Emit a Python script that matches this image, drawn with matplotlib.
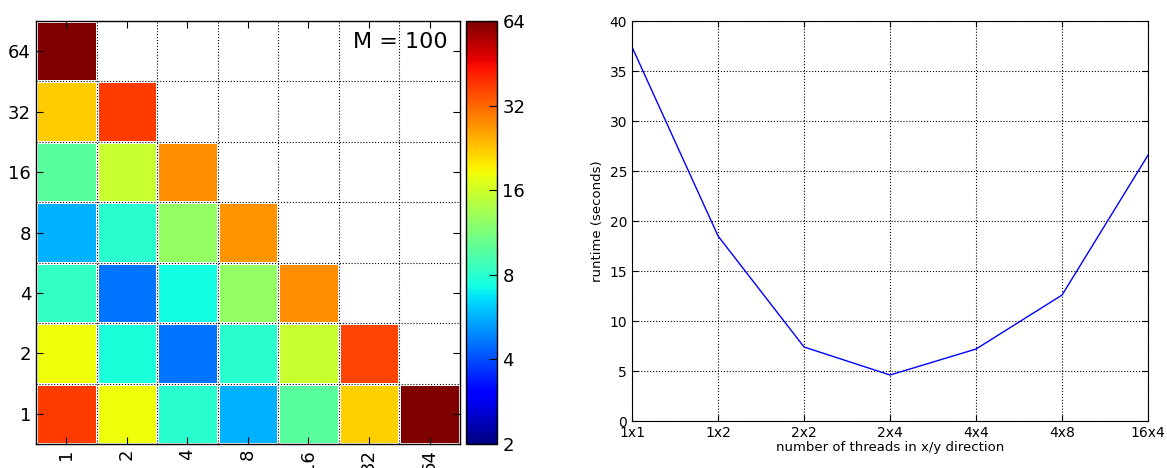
import numpy as np
import matplotlib
matplotlib.use('Agg')
import matplotlib.pyplot as plt
from matplotlib.colors import LogNorm

# heatmap: threads in x (columns) vs threads in y (rows), nan = not run
threads = [1, 2, 4, 8, 16, 32, 64]
row_y1 = [37.7, 18.4, 8.0, 5.6, 9.8, 21.8, 64.0]
row_y2 = [18.4, 7.6, 4.6, 8.0, 15.6, 36.7, np.nan]
row_y4 = [8.3, 4.6, 7.3, 12.6, 27.9, np.nan, np.nan]
row_y8 = [5.6, 8.0, 12.6, 27.0, np.nan, np.nan, np.nan]
row_y16 = [9.8, 15.6, 27.9, np.nan, np.nan, np.nan, np.nan]
row_y32 = [22.2, 37.7, np.nan, np.nan, np.nan, np.nan, np.nan]
row_y64 = [64.0, np.nan, np.nan, np.nan, np.nan, np.nan, np.nan]
cbar_ticks = [2, 4, 8, 16, 32, 64]

# runtime line
layouts = ['1x1', '1x2', '2x2', '2x4', '4x4', '4x8', '16x4']
runtime = [37.4, 18.5, 7.4, 4.6, 7.2, 12.6, 26.6]

plt.rcParams['xtick.direction'] = 'in'
plt.rcParams['ytick.direction'] = 'in'
plt.rcParams['xtick.top'] = True
plt.rcParams['ytick.right'] = True

grid = np.ma.masked_invalid(np.array([row_y1, row_y2, row_y4, row_y8,
                                      row_y16, row_y32, row_y64]))

fig = plt.figure(figsize=(11.67, 4.68), dpi=100)

ax1 = fig.add_axes([0.0308, 0.0513, 0.3633, 0.9038])
mesh = ax1.pcolormesh(grid, cmap='jet', norm=LogNorm(vmin=2, vmax=64),
                      edgecolors='white', linewidth=1.0)
n = len(threads)
ax1.set_xlim(0, n)
ax1.set_ylim(0, n)
ax1.set_xticks(np.arange(n) + 0.5)
ax1.set_yticks(np.arange(n) + 0.5)
ax1.set_xticklabels(threads, rotation=90, fontsize=13)
ax1.set_yticklabels(threads, fontsize=13)
ax1.set_xticks(np.arange(1, n), minor=True)
ax1.set_yticks(np.arange(1, n), minor=True)
ax1.tick_params(which='minor', length=0)
ax1.tick_params(which='major', length=5)
ax1.grid(which='minor', color='black', linestyle=':', linewidth=0.8)
ax1.set_axisbelow(False)
for s in ax1.spines.values():
    s.set_linewidth(1.0)
ax1.text(0.97, 0.975, 'M = 100', transform=ax1.transAxes, ha='right',
         va='top', fontsize=16)

cax = fig.add_axes([0.3989, 0.0513, 0.0274, 0.9038])
cb = fig.colorbar(mesh, cax=cax, ticks=cbar_ticks)
cb.ax.minorticks_off()
cb.ax.set_yticklabels([str(t) for t in cbar_ticks], fontsize=13)
cb.ax.tick_params(direction='in', length=6, left=False)
cb.outline.set_linewidth(1.0)

ax2 = fig.add_axes([0.5416, 0.1004, 0.4422, 0.8547])
ax2.plot(range(len(layouts)), runtime, color='blue', linewidth=1.0)
ax2.set_xlim(0, len(layouts) - 1)
ax2.set_ylim(0, 40)
ax2.set_yticks(range(0, 41, 5))
ax2.set_xticks(range(len(layouts)))
ax2.set_xticklabels(layouts)
ax2.tick_params(labelsize=10, length=4)
ax2.set_xlabel('number of threads in x/y direction', fontsize=9.5, labelpad=1)
ax2.set_ylabel('runtime (seconds)', fontsize=9.5)
ax2.grid(color='black', linestyle=':', linewidth=0.8)

fig.savefig('out.png', dpi=100)
